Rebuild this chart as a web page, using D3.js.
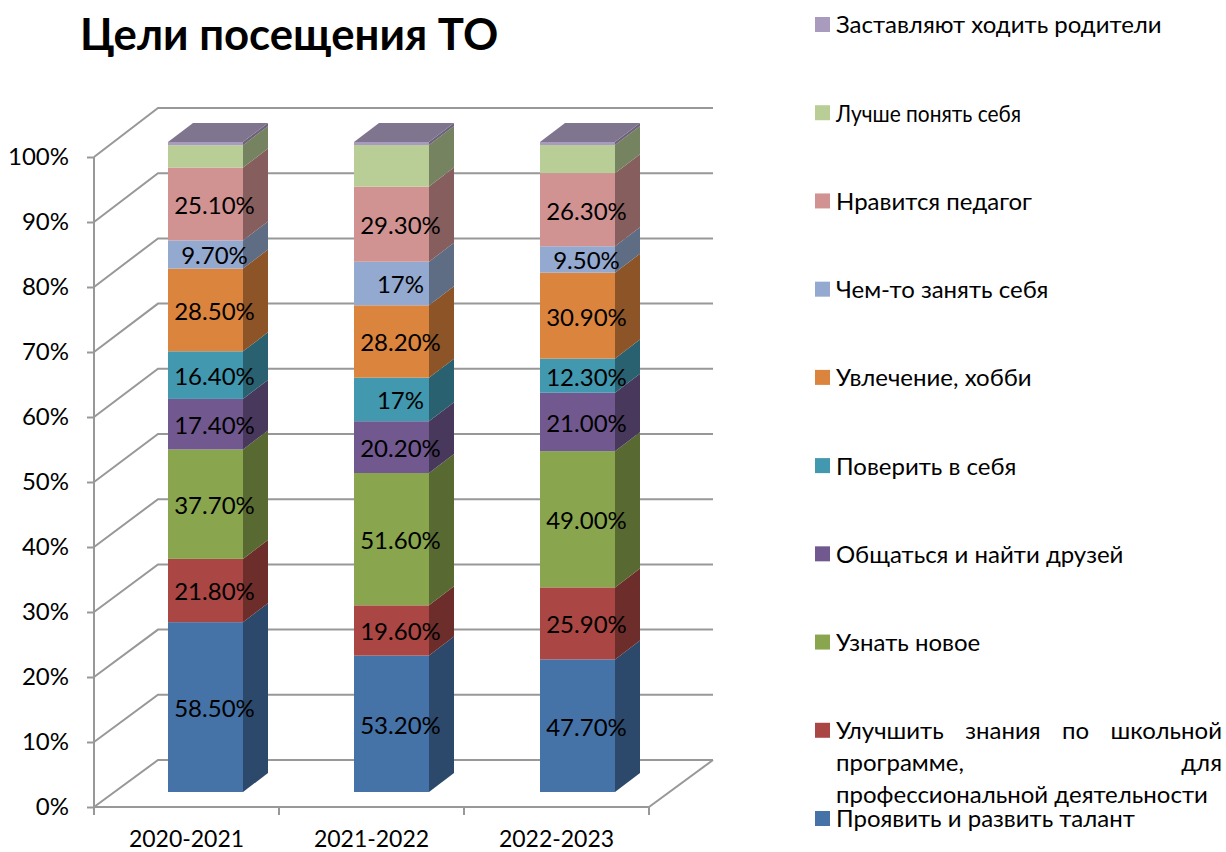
<!DOCTYPE html>
<html>
<head>
<meta charset="utf-8">
<script src="https://cdn.jsdelivr.net/npm/d3@7"></script>
<style>
  html, body { margin: 0; padding: 0; background: #fff; }
  svg { display: block; }
  text { font-family: Lato, "Open Sans", "Noto Sans", sans-serif; fill: #000; }
  .axis path { display: none; }
  .axis line { stroke: #989898; stroke-width: 2; }
  .axis text { font-size: 24px; }
  .x-axis text { font-size: 23px; }
</style>
</head>
<body>
<div id="chart"></div>
<script>
const categories = ["2020-2021", "2021-2022", "2022-2023"];
const yTicks = [0, 10, 20, 30, 40, 50, 60, 70, 80, 90, 100];

const seriesNames = [
  "Проявить и развить талант",
  "Улучшить знания по школьной программе, для профессиональной деятельности",
  "Узнать новое",
  "Общаться и найти друзей",
  "Поверить в себя",
  "Увлечение, хобби",
  "Чем-то занять себя",
  "Нравится педагог",
  "Лучше понять себя",
  "Заставляют ходить родители"
];
const seriesColors = ["#4572a7", "#aa4643", "#89a54e", "#71588f", "#4198af", "#db843d", "#93a9cf", "#d19392", "#b9cd96", "#a99bbd"];

const talent = [58.5, 53.2, 47.7];
const school = [21.8, 19.6, 25.9];
const learnNew = [37.7, 51.6, 49.0];
const friends = [17.4, 20.2, 21.0];
const believe = [16.4, 17, 12.3];
const hobby = [28.5, 28.2, 30.9];
const occupy = [9.7, 17, 9.5];
const teacher = [25.1, 29.3, 26.3];
const understand = [7.7, 16.2, 10.1];
const parents = [1.1, 1.2, 1.1];
const seriesValues = [talent, school, learnNew, friends, believe, hobby, occupy, teacher, understand, parents];

// labels as printed on the chart, the last two series have none
const dataLabels = [
  ["58.50%", "53.20%", "47.70%"],
  ["21.80%", "19.60%", "25.90%"],
  ["37.70%", "51.60%", "49.00%"],
  ["17.40%", "20.20%", "21.00%"],
  ["16.40%", "17%", "12.30%"],
  ["28.50%", "28.20%", "30.90%"],
  ["9.70%", "17%", "9.50%"],
  ["25.10%", "29.30%", "26.30%"],
  [],
  []
];

const width = 1226,
  height = 852,
  margin = {top: 157, right: 577, bottom: 45, left: 94};

const wallDx = 64;                // floor/wall depth
const barDx = 25, barDy = -19;    // column depth
const barLift = 15, barWidth = 75;

const svg = d3.select("#chart")
  .append("svg")
  .attr("width", width)
  .attr("height", height)
  .attr("viewBox", [0, 0, width, height]);

const x = d3.scaleBand(categories, [margin.left, width - margin.right]);
const xBar = d3.scalePoint(categories, [168, 540]);
const y = d3.scaleLinear([0, 100], [height - margin.bottom, margin.top]);
const yBack = d3.scaleLinear([0, 100], [760, 108]);

const rows = categories.map((c, i) => {
  const row = {category: c};
  seriesNames.forEach((s, k) => row[s] = seriesValues[k][i]);
  return row;
});
const stacked = d3.stack()
  .keys(seriesNames)
  .offset(d3.stackOffsetExpand)(rows);

const shade = (c, k) => {
  const r = d3.rgb(c);
  return d3.rgb(r.r * k, r.g * k, r.b * k).formatHex();
};
const poly = pts => pts.map(p => p.join(",")).join(" ");

// back wall and floor
const grid = svg.append("g").attr("fill", "none").attr("stroke", "#989898").attr("stroke-width", 2);
grid.selectAll("polyline.wall")
  .data(yTicks)
  .join("polyline")
  .attr("class", "wall")
  .attr("points", d => poly([
    [margin.left, y(d)],
    [margin.left + wallDx, yBack(d)],
    [width - margin.right + wallDx, yBack(d)]
  ]));
grid.append("polyline")
  .attr("points", poly([
    [width - margin.right + wallDx, yBack(0)],
    [width - margin.right, y(0)]
  ]));
grid.append("line")
  .attr("x1", margin.left).attr("x2", margin.left)
  .attr("y1", y(100)).attr("y2", y(0));

svg.append("g")
  .attr("class", "axis")
  .attr("transform", `translate(${margin.left},0)`)
  .call(d3.axisLeft(y).tickValues(yTicks).tickSize(7).tickPadding(18).tickFormat(d => d + "%"));

const xAxis = svg.append("g")
  .attr("class", "axis x-axis")
  .attr("transform", `translate(0,${y(0)})`)
  .call(d3.axisBottom(x).tickSize(0).tickPadding(24));
xAxis.selectAll(".edge")
  .data(d3.range(categories.length + 1))
  .join("line")
  .attr("class", "edge")
  .attr("x1", i => margin.left + i * x.step())
  .attr("x2", i => margin.left + i * x.step())
  .attr("y1", 0)
  .attr("y2", 8);
xAxis.append("line")
  .attr("x1", margin.left)
  .attr("x2", width - margin.right);

const barX = d => xBar(d.data.category);
const barY = v => y(v * 100) - barLift;

// columns, bottom segment first so upper ones sit on top
const layers = svg.append("g")
  .selectAll("g")
  .data(stacked)
  .join("g");

layers.selectAll("polygon.side")
  .data(d => d.map(p => Object.assign(p, {color: seriesColors[d.index]})))
  .join("polygon")
  .attr("class", "side")
  .attr("fill", d => shade(d.color, 0.64))
  .attr("points", d => poly([
    [barX(d) + barWidth, barY(d[1])],
    [barX(d) + barWidth + barDx, barY(d[1]) + barDy],
    [barX(d) + barWidth + barDx, barY(d[0]) + barDy],
    [barX(d) + barWidth, barY(d[0])]
  ]));

layers.selectAll("rect")
  .data(d => d)
  .join("rect")
  .attr("x", barX)
  .attr("y", d => barY(d[1]))
  .attr("width", barWidth)
  .attr("height", d => barY(d[0]) - barY(d[1]))
  .attr("fill", d => d.color);

// lid of each column
svg.append("g")
  .selectAll("polygon")
  .data(stacked[stacked.length - 1])
  .join("polygon")
  .attr("fill", "#80758f")
  .attr("points", d => poly([
    [barX(d), barY(d[1])],
    [barX(d) + barDx, barY(d[1]) + barDy],
    [barX(d) + barWidth + barDx, barY(d[1]) + barDy],
    [barX(d) + barWidth, barY(d[1])]
  ]));

// data labels
svg.append("g")
  .selectAll("g")
  .data(stacked)
  .join("g")
  .selectAll("text")
  .data((d, k) => d.map((p, i) => ({p, label: dataLabels[k][i]})).filter(o => o.label))
  .join("text")
  .attr("x", o => barX(o.p) + barWidth / 2 + 9)
  .attr("y", o => (barY(o.p[0]) + barY(o.p[1])) / 2 + 1.5)
  .attr("dy", "0.35em")
  .attr("text-anchor", "middle")
  .attr("font-size", 24)
  .text(o => o.label);

// title
svg.append("text")
  .attr("x", 80)
  .attr("y", 50)
  .attr("font-size", 43.7)
  .attr("font-weight", 700)
  .text("Цели посещения ТО");

// legend, top entry is the last series
const legendOrder = seriesNames.slice().reverse();
const legendY = d3.scalePoint(legendOrder, [25, 819]);
const legendX = 836, legendRight = 1222, lineHeight = 32;

const legend = svg.append("g")
  .selectAll("g")
  .data(legendOrder)
  .join("g")
  .attr("transform", d => `translate(0,${legendY(d)})`);

legend.append("rect")
  .attr("x", 815)
  .attr("y", -8)
  .attr("width", 15)
  .attr("height", 15)
  .attr("fill", d => seriesColors[seriesNames.indexOf(d)]);

// the long entry wraps and is justified like in the source
const wrapped = {
  [seriesNames[1]]: ["Улучшить знания по школьной", "программе, для", "профессиональной деятельности"]
};
// Lato runs wider than the original font on this one
const squeezed = {[seriesNames[8]]: 185};

legend.each(function(d) {
  const g = d3.select(this);
  const lines = wrapped[d] || [d];
  lines.forEach((line, i) => {
    const t = g.append("text")
      .attr("x", legendX)
      .attr("y", i * lineHeight)
      .attr("dy", "0.35em")
      .attr("font-size", 24)
      .text(line);
    if (lines.length > 1 && i < lines.length - 1) {
      const gaps = line.split(" ").length - 1;
      t.attr("word-spacing", (legendRight - legendX - t.node().getComputedTextLength()) / gaps);
    }
    if (squeezed[d]) t.attr("textLength", squeezed[d]).attr("lengthAdjust", "spacingAndGlyphs");
  });
});
</script>
</body>
</html>
